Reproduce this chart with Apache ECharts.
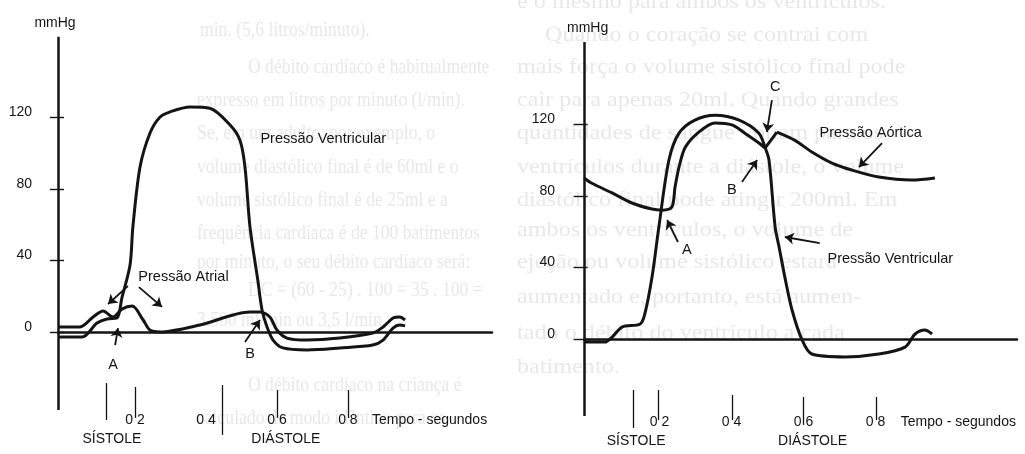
<!DOCTYPE html>
<html>
<head>
<meta charset="utf-8">
<title>Pressões no ciclo cardíaco</title>
<script src="https://cdn.jsdelivr.net/npm/echarts@6/dist/echarts.min.js"></script>
<style>
html, body { margin: 0; padding: 0; background: #fff; }
#main { width: 1025px; height: 454px; }
</style>
</head>
<body>
<div id="main"></div>
<script>
// valores: tempo em segundos, pressão em mmHg

// gráfico da esquerda - pressão ventricular e atrial
var ventEsqT = [-0.017, 0.051, 0.093, 0.121, 0.149, 0.163, 0.186, 0.194, 0.214, 0.242, 0.270, 0.299, 0.355, 0.411, 0.468, 0.496, 0.510, 0.524, 0.546, 0.558, 0.572, 0.589, 0.617, 0.685, 0.777, 0.870, 0.899, 0.927, 0.946, 0.961];
var ventEsqP = [-2.8, -2.8, 5.0, 7.3, 7.8, 19, 37.4, 58.7, 92, 111, 120, 123, 125.7, 125, 115.6, 107, 92, 58.7, 29, 12.3, 2.8, -4.5, -8.9, -10, -8.9, -7.3, -4.5, 2.2, 3.9, 3.4];
var atrialT = [-0.017, 0.045, 0.082, 0.110, 0.138, 0.163, 0.192, 0.223, 0.242, 0.270, 0.383, 0.524, 0.552, 0.580, 0.600, 0.628, 0.685, 0.777, 0.870, 0.899, 0.927, 0.946, 0.961];
var atrialP = [2.8, 2.8, 8.4, 11.7, 8.4, 12.8, 14.5, 6.7, 1.1, 0, 3.9, 11.2, 11.2, 8.4, 1.1, -3.4, -4.5, -3.4, -0.6, 2.8, 7.8, 8.4, 6.7];

// gráfico da direita - pressão ventricular e aórtica
var ventDirT = [-0.010, 0.048, 0.068, 0.096, 0.146, 0.159, 0.179, 0.198, 0.226, 0.254, 0.298, 0.354, 0.421, 0.476, 0.493, 0.504, 0.521, 0.532, 0.548, 0.568, 0.596, 0.623, 0.715, 0.809, 0.882, 0.910, 0.937, 0.957];
var ventDirP = [-1.7, -1.7, 1.1, 6.7, 8.4, 14, 34.6, 62.6, 100, 115, 122.3, 125, 122.3, 115, 107, 100, 62.6, 51.4, 34.6, 16.2, -0.6, -8.4, -10, -8.4, -4.5, 2.8, 5, 2.8];
var aortaT = [-0.010, 0.012, 0.068, 0.123, 0.179, 0.207, 0.234, 0.243, 0.254, 0.271, 0.309, 0.354, 0.401, 0.437, 0.476, 0.493, 0.526, 0.576, 0.623, 0.679, 0.734, 0.809, 0.901, 0.965];
var aortaP = [90, 87, 81.6, 76, 72.6, 72, 73.7, 85, 96, 107, 115.6, 120.7, 119.6, 115, 109.5, 106.7, 115.6, 111, 104.5, 98.3, 94.4, 90.5, 88.8, 90];
var incisura = 15; // índice do ponto C (fechamento da valva aórtica)

// eixos
var ticksY = [0, 40, 80, 120];
var rotulosX = [0.2, 0.4, 0.6, 0.8];
var marcasEsq = [0.12, 0.2, 0.445, 0.6, 0.8];
var marcasDir = [0.126, 0.196, 0.401, 0.598, 0.801];
var fases = ['SÍSTOLE', 'DIÁSTOLE'];
var fasesT = [0.135, 0.625];

// texto do verso da página que aparece por transparência
var versoEsq = [
  'min. (5,6 litros/minuto).',
  'O débito cardíaco é habitualmente',
  'expresso em litros por minuto (l/min).',
  'Se, em um adulto, por exemplo, o',
  'volume diastólico final é de 60ml e o',
  'volume sistólico final é de 25ml e a',
  'frequência cardíaca é de 100 batimentos',
  'por minuto, o seu débito cardíaco será:',
  'DC = (60 - 25) . 100 = 35 . 100 =',
  '3.500 ml/min ou 3,5 l/min.',
  'O débito cardíaco na criança é',
  'calculado de modo idêntico para os'
];
var versoDir = [
  'é o mesmo para ambos os ventrículos.',
  'Quando o coração se contrai com',
  'mais força o volume sistólico final pode',
  'cair para apenas 20ml. Quando grandes',
  'quantidades de sangue voltam para os',
  'ventrículos durante a diástole, o volume',
  'diastólico final pode atingir 200ml. Em',
  'ambos os ventrículos, o volume de',
  'ejeção ou volume sistólico estará',
  'aumentado e, portanto, está aumen-',
  'tado o débito do ventrículo a cada',
  'batimento.'
];

function pares(t, p) {
  return t.map(function (v, i) { return [v, p[i]]; });
}

var preto = '#141414';
var fonte = '"Liberation Sans", Arial, sans-serif';

function curva(nome, dados, xi, yi, extra) {
  var s = {
    name: nome,
    type: 'line',
    xAxisIndex: xi,
    yAxisIndex: yi,
    data: dados,
    smooth: 0.3,
    showSymbol: false,
    silent: true,
    lineStyle: { color: preto, width: 3 },
    z: 3
  };
  if (extra) {
    for (var k in extra) s[k] = extra[k];
  }
  return s;
}

function seta(de, para) {
  return [
    { coord: de, symbol: 'none', lineStyle: { width: 1.8, color: preto, type: 'solid' } },
    { coord: para, symbol: 'arrow', symbolSize: 9 }
  ];
}

function traco(t, y1, y2, larg) {
  return [
    { coord: [t, y1], symbol: 'none', lineStyle: { width: larg, color: preto, type: 'solid' } },
    { coord: [t, y2], symbol: 'none' }
  ];
}

function rotulo(texto, coord, alinhamento) {
  return {
    name: texto,
    coord: coord,
    symbol: 'circle',
    symbolSize: 1,
    itemStyle: { color: 'rgba(0,0,0,0)' },
    label: {
      show: true,
      formatter: '{b}',
      position: alinhamento === 'left' ? 'right' : 'inside',
      distance: 0,
      color: preto,
      fontFamily: fonte,
      fontSize: 14.5
    }
  };
}

function marcadores(linhas, textos) {
  return {
    markLine: { silent: true, animation: false, label: { show: false }, emphasis: { disabled: true }, data: linhas },
    markPoint: { silent: true, animation: false, data: textos }
  };
}

function eixoX(grid, min, max, offset, margem) {
  return [{
    type: 'value', gridIndex: grid, position: 'bottom', min: min, max: max, offset: offset,
    axisLine: { show: true, lineStyle: { color: preto, width: 2.5 } },
    axisTick: { show: false },
    splitLine: { show: false },
    axisLabel: {
      customValues: rotulosX.concat([1.03]),
      margin: margem,
      color: preto, fontFamily: fonte, fontSize: 14,
      formatter: function (v) {
        if (v > 1) return 'Tempo - segundos';
        return '0 ' + Math.round(v * 10);
      }
    }
  }, {
    type: 'value', gridIndex: grid, position: 'bottom', min: min, max: max, offset: offset,
    axisLine: { show: false },
    axisTick: { show: false },
    splitLine: { show: false },
    axisLabel: {
      customValues: fasesT,
      margin: margem + 19,
      color: preto, fontFamily: fonte, fontSize: 14,
      formatter: function (v) { return fases[fasesT.indexOf(v)]; }
    }
  }];
}

function eixoY(grid, max, offset, margem, pad) {
  return {
    type: 'value', gridIndex: grid, min: -60, max: max, offset: offset,
    name: 'mmHg', nameLocation: 'end', nameGap: 7,
    nameTextStyle: { color: preto, fontFamily: fonte, fontSize: 14, padding: pad },
    axisLine: { show: false },
    splitLine: { show: false },
    axisTick: { show: true, customValues: ticksY, length: 14, inside: false, lineStyle: { color: preto, width: 1.4 } },
    axisLabel: {
      customValues: ticksY, margin: margem, verticalAlign: 'bottom', lineHeight: 10,
      color: preto, fontFamily: fonte, fontSize: 14
    }
  };
}

var textosVerso = [];
var yEsq = [30, 67, 100, 133, 167, 200, 233, 262, 290, 320, 385, 418];
var xEsq = [200, 248, 197, 197, 197, 197, 197, 197, 248, 197, 248, 197];
versoEsq.forEach(function (t, i) {
  textosVerso.push({
    type: 'text', x: xEsq[i], y: yEsq[i], scaleX: 0.8, z: -5, silent: true,
    style: { text: t, fill: '#e8e8e8', font: '22px "Liberation Serif", serif', verticalAlign: 'middle' }
  });
});
var yDir = [2, 35, 67, 100, 133, 167, 200, 230, 262, 297, 333, 367];
var xDir = [517, 545, 517, 517, 517, 517, 517, 517, 517, 517, 517, 517];
versoDir.forEach(function (t, i) {
  textosVerso.push({
    type: 'text', x: xDir[i], y: yDir[i], scaleX: 1.1, z: -5, silent: true,
    style: { text: t, fill: '#e8e8e8', font: '22px "Liberation Serif", serif', verticalAlign: 'middle' }
  });
});

var xMinEsq = -0.017, xMaxEsq = 1.206;
var xMinDir = -0.010, xMaxDir = 1.193;

// linhas de apoio do gráfico da esquerda
var linhasEsq = [
  traco(xMinEsq, -43.6, 165, 2.5),
  seta([0.180, 25.7], [0.124, 15.6]),
  seta([0.211, 25.1], [0.276, 14]),
  seta([0.144, -7.3], [0.152, 2.2]),
  seta([0.510, -5.6], [0.552, 6.7])
];
var cimaEsq = [-28.5, -30.7, -29.6, -32.4, -32.4];
var baixoEsq = [-49.2, -48, -57.5, -48, -48];
marcasEsq.forEach(function (t, i) { linhasEsq.push(traco(t, cimaEsq[i], baixoEsq[i], 1.3)); });
var textosEsq = [
  rotulo('Pressão Ventricular', [0.552, 107.8], 'left'),
  rotulo('Pressão Atrial', [0.208, 30.7], 'left'),
  rotulo('A', [0.138, -18.4]),
  rotulo('B', [0.524, -12.3])
];

// linhas de apoio do gráfico da direita
var linhasDir = [
  traco(xMinDir, -43, 166, 2.5),
  seta([0.512, 133.5], [0.498, 115.6]),
  seta([0.429, 87.7], [0.471, 100]),
  seta([0.818, 109.5], [0.754, 96.1]),
  seta([0.251, 54.2], [0.221, 66.5]),
  seta([0.645, 53.6], [0.548, 57])
];
var cimaDir = [-28.5, -28.5, -31.3, -32.4, -32.4];
var baixoDir = [-49.7, -45.3, -45.3, -48, -45.3];
marcasDir.forEach(function (t, i) { linhasDir.push(traco(t, cimaDir[i], baixoDir[i], 1.3)); });
var textosDir = [
  rotulo('C', [0.521, 140.8]),
  rotulo('B', [0.401, 83.2]),
  rotulo('Pressão Aórtica', [0.643, 115.1], 'left'),
  rotulo('A', [0.276, 49.7]),
  rotulo('Pressão Ventricular', [0.665, 44.7], 'left')
];

var aorta = pares(aortaT, aortaP);

var chart = echarts.init(document.getElementById('main'), null, { renderer: 'canvas' });
var option = {
  animation: false,
  backgroundColor: '#ffffff',
  graphic: { elements: textosVerso },
  grid: [
    { left: 58, top: 36.65, width: 434, height: 402.75, outerBoundsMode: 'none' },
    { left: 584, top: 41.9, width: 433, height: 404.5, outerBoundsMode: 'none' }
  ],
  xAxis: eixoX(0, xMinEsq, xMaxEsq, -29.4, 3).concat(eixoX(1, xMinDir, xMaxDir, -30.4, -1)),
  yAxis: [eixoY(0, 165, 3, 23, [0, 18, 0, 0]), eixoY(1, 166, 5, 24, [0, 0, 0, 0])],
  series: [
    curva('Pressão Ventricular', pares(ventEsqT, ventEsqP), 0, 0, marcadores(linhasEsq, textosEsq)),
    curva('Pressão Atrial', pares(atrialT, atrialP), 0, 0),
    curva('Pressão Ventricular ', pares(ventDirT, ventDirP), 2, 1, marcadores(linhasDir, textosDir)),
    curva('Pressão Aórtica', aorta.slice(0, incisura + 1), 2, 1),
    curva('Pressão Aórtica ', aorta.slice(incisura, incisura + 2), 2, 1, { smooth: false }),
    curva('Pressão Aórtica  ', aorta.slice(incisura + 1), 2, 1)
  ]
};
chart.setOption(option);
</script>
</body>
</html>
